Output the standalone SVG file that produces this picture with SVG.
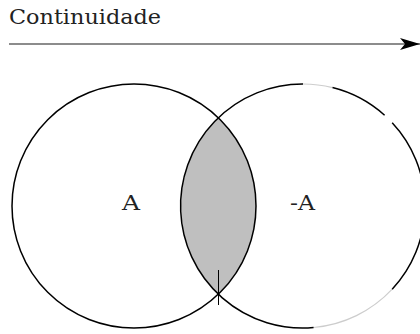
<svg xmlns="http://www.w3.org/2000/svg" width="420" height="334" viewBox="0 0 420 334">
<style>
.t{font-family:"DejaVu Serif",serif;fill:#222}
.c{fill:none;stroke:#000;stroke-width:1.5}
.f{fill:none;stroke:#000;stroke-width:1.2;stroke-opacity:0.2}
</style>
<defs>
<marker id="ah" markerWidth="20" markerHeight="12" refX="20" refY="6" orient="auto" markerUnits="userSpaceOnUse">
<path d="M0,0 L20,6 L0,12 L5,6 Z" fill="#000"/>
</marker>
</defs>
<rect width="420" height="334" fill="#fff"/>
<g id="label-continuidade">
<text class="t" x="9" y="24" font-size="20" textLength="152" lengthAdjust="spacingAndGlyphs">Continuidade</text>
</g>
<g id="connectors">
<line x1="9" y1="44" x2="420" y2="44" stroke="#666" stroke-width="1.5" marker-end="url(#ah)"/>
</g>
<g id="lens">
<path d="M218.5,118 A122,122 0 0 0 218.5,294 A122,122 0 0 0 218.5,118 Z" fill="#bfbfbf" stroke="none"/>
</g>
<g id="circle-A">
<circle class="c" cx="134" cy="206" r="122"/>
<text class="t" x="122" y="210" font-size="20" textLength="18" lengthAdjust="spacingAndGlyphs">A</text>
</g>
<g id="circle-notA">
<path class="c" d="M313.6,327.5 A122,122 0 1 1 303,84"/>
<path class="f" d="M303,84 A122,122 0 0 1 332.5,87.6"/>
<path class="c" d="M332.5,87.6 A122,122 0 0 1 384.6,115.3"/>
<path class="c" d="M392.2,122.8 A122,122 0 0 1 392.2,289.2"/>
<path class="f" d="M392.2,289.2 A122,122 0 0 1 313.6,327.5"/>
<text class="t" x="290" y="210" font-size="20" textLength="25" lengthAdjust="spacingAndGlyphs">-A</text>
</g>
<g id="tick">
<line x1="218.5" y1="270" x2="218.5" y2="305" stroke="#000" stroke-width="1"/>
</g>
</svg>
